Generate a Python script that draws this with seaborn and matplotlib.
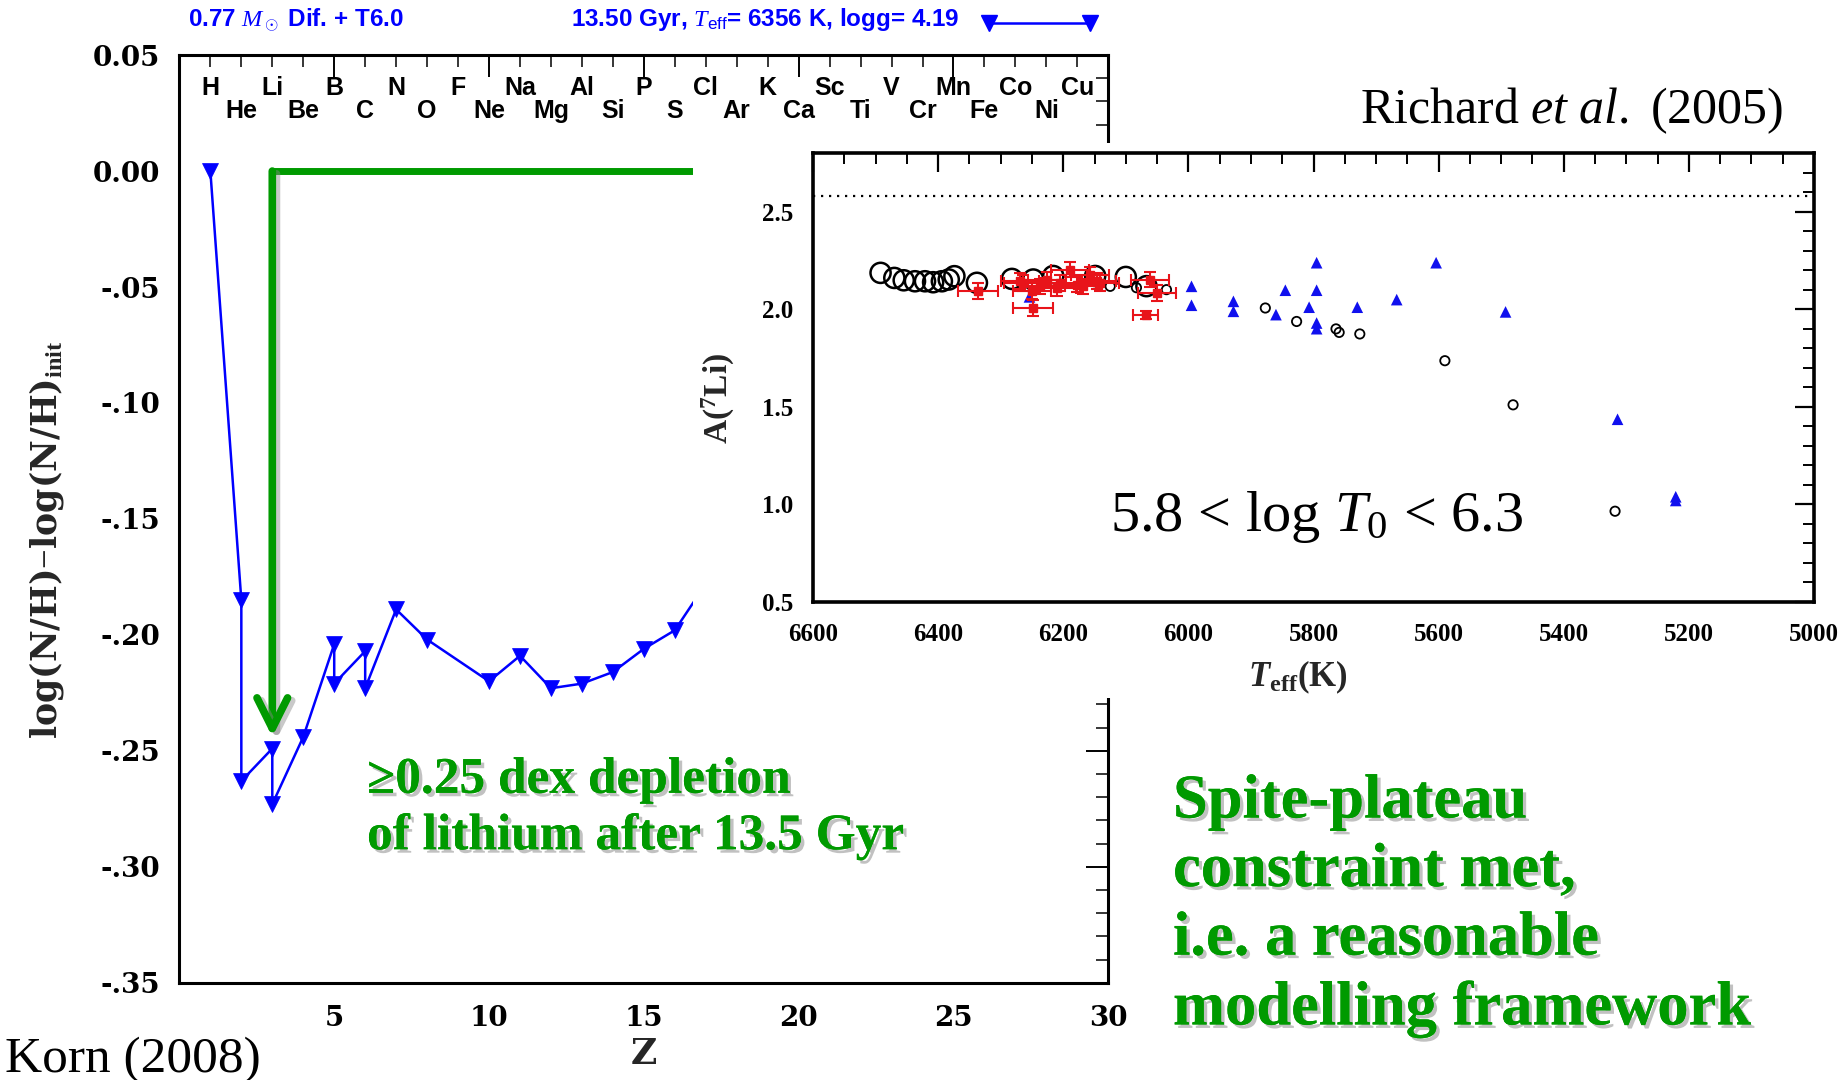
import matplotlib
matplotlib.use("Agg")
import matplotlib.pyplot as plt
import matplotlib.patheffects as pe
from matplotlib.ticker import FixedLocator, MultipleLocator
import pandas as pd
import seaborn as sns

# ---------------------------------------------------------------- data
# Surface abundance change after 13.5 Gyr (0.77 Msun, diffusion + T6.0)
z_number = [1, 2, 2, 3, 3, 4, 5, 5, 6, 6, 7, 8, 10, 11, 12, 13, 14, 15, 16, 17]
delta_log_nh = [0.000, -0.185, -0.263, -0.249, -0.273, -0.244, -0.204, -0.221,
                -0.207, -0.223, -0.189, -0.202, -0.220, -0.209, -0.223, -0.221,
                -0.216, -0.206, -0.198, -0.178]

element_symbols = ["H", "He", "Li", "Be", "B", "C", "N", "O", "F", "Ne", "Na",
                   "Mg", "Al", "Si", "P", "S", "Cl", "Ar", "K", "Ca", "Sc", "Ti",
                   "V", "Cr", "Mn", "Fe", "Co", "Ni", "Cu"]

z_ticks = [5, 10, 15, 20, 25, 30]
z_tick_labels = ["5", "10", "15", "20", "25", "30"]
abund_ticks = [0.05, 0.00, -0.05, -0.10, -0.15, -0.20, -0.25, -0.30, -0.35]
abund_tick_labels = ["0.05", "0.00", "-.05", "-.10", "-.15", "-.20", "-.25",
                     "-.30", "-.35"]

li_depletion_start = 0.0
li_depletion_end = -0.244

# Lithium abundances of halo stars (Richard et al. 2005 compilation)
circ_big_teff = [6492, 6470, 6455, 6437, 6421, 6408, 6394, 6383, 6374, 6338,
                 6282, 6248, 6216, 6149, 6100, 6067]
circ_big_ali = [2.186, 2.160, 2.148, 2.143, 2.143, 2.138, 2.143, 2.152, 2.169,
                2.135, 2.155, 2.152, 2.170, 2.170, 2.165, 2.118]

circ_small_teff = [6125, 6083, 6035, 5877, 5827, 5764, 5759, 5726, 5590, 5481,
                   5318]
circ_small_ali = [2.117, 2.110, 2.100, 2.006, 1.937, 1.899, 1.881, 1.873, 1.736,
                  1.510, 0.965]

tri_teff = [6254, 5995, 5995, 5928, 5928, 5860, 5845, 5807, 5795, 5795, 5795,
            5795, 5730, 5667, 5604, 5493, 5314, 5221, 5221]
tri_ali = [2.063, 2.117, 2.020, 2.040, 1.989, 1.972, 2.097, 2.010, 2.238, 2.097,
           1.929, 1.900, 2.010, 2.049, 2.238, 1.986, 1.436, 1.039, 1.020]

sq_teff = [6336, 6269, 6264, 6250, 6248, 6237, 6226, 6210, 6205, 6189, 6178,
           6168, 6157, 6146, 6141, 6061, 6050, 6068]
sq_ali = [2.092, 2.143, 2.135, 2.092, 2.006, 2.117, 2.150, 2.109, 2.135, 2.203,
          2.126, 2.117, 2.177, 2.143, 2.135, 2.152, 2.083, 1.972]
sq_teff_err = [32, 30, 30, 30, 32, 30, 30, 30, 30, 30, 30, 30, 30, 30, 30, 30,
               30, 20]
sq_ali_err = [0.04, 0.04, 0.04, 0.04, 0.04, 0.04, 0.04, 0.04, 0.04, 0.04, 0.04,
              0.04, 0.04, 0.04, 0.04, 0.04, 0.04, 0.02]

primordial_li = 2.58

teff_ticks = [6600, 6400, 6200, 6000, 5800, 5600, 5400, 5200, 5000]
ali_ticks = [0.5, 1.0, 1.5, 2.0, 2.5]

# ---------------------------------------------------------------- style
sns.set_style("white")
plt.rcParams["font.family"] = ["Liberation Serif", "DejaVu Serif"]
plt.rcParams["mathtext.fontset"] = "custom"
plt.rcParams["mathtext.rm"] = "Liberation Serif"
plt.rcParams["mathtext.it"] = "Liberation Serif:italic"
plt.rcParams["mathtext.bf"] = "Liberation Serif:bold"
plt.rcParams["mathtext.bfit"] = "Liberation Serif:italic:bold"
plt.rcParams["mathtext.sf"] = "Liberation Sans"

GREEN = "#009a00"
BLUE = "#0000ff"
WIDE_SERIF = ["DejaVu Serif"]

W, H = 1839, 1080
fig = plt.figure(figsize=(W / 100, H / 100), dpi=100)
fig.patch.set_facecolor("white")


def fig_rect(x0, y0, x1, y1):
    return [x0 / W, 1 - y1 / H, (x1 - x0) / W, (y1 - y0) / H]


# ---------------------------------------------------------------- main panel
ax = fig.add_axes(fig_rect(179.4, 55.1, 1108.3, 982.8))
ax.set_facecolor("white")

df_abund = pd.DataFrame({"Z": z_number, "dlog": delta_log_nh})
sns.lineplot(data=df_abund, x="Z", y="dlog", estimator=None, sort=False,
             color=BLUE, linewidth=1.8, marker="v", markersize=11,
             markeredgecolor=BLUE, markeredgewidth=0.5, ax=ax, zorder=3)

ax.set_xlim(0, 30)
ax.set_ylim(-0.35, 0.05)
ax.xaxis.set_major_locator(FixedLocator(z_ticks))
ax.set_xticklabels(z_tick_labels)
ax.xaxis.set_minor_locator(MultipleLocator(1))
ax.yaxis.set_major_locator(FixedLocator(abund_ticks))
ax.set_yticklabels(abund_tick_labels)
ax.yaxis.set_minor_locator(MultipleLocator(0.01))
ax.tick_params(which="both", direction="in", top=True, right=True,
               colors="black")
ax.tick_params(which="major", length=16, width=1.4)
ax.tick_params(which="minor", length=8.5, width=1.1)
ax.tick_params(axis="x", which="major", pad=16)
ax.tick_params(axis="y", which="major", pad=14)
for lab in ax.get_xticklabels() + ax.get_yticklabels():
    lab.set_fontweight("bold")
    lab.set_fontsize(20)
    lab.set_family(WIDE_SERIF)
for s in ax.spines.values():
    s.set_linewidth(2.2)
    s.set_color("black")

ax.set_xlabel("Z", fontsize=26, fontweight="bold", family=WIDE_SERIF)
ax.xaxis.set_label_coords(0.5, -0.058)
ax.set_ylabel(r"log(N/H)$-$log(N/H)$_{\mathbf{init}}$", fontsize=25,
              fontweight="bold", family=WIDE_SERIF)
ax.yaxis.set_label_coords(-0.122, 0.478)

# element symbols along the top
for i, sym in enumerate(element_symbols):
    z = i + 1
    yv = 0.0358 if z % 2 == 1 else 0.0259
    ax.text(z, yv, sym, ha="center", va="center", fontsize=18,
            fontweight="bold", family="Liberation Sans", color="black")

# run header
ax.text(0.0093, 1.038, r"0.77 $M_\odot$ Dif. + T6.0", transform=ax.transAxes,
        ha="left", va="center", fontsize=17.5, fontweight="bold",
        family="Liberation Sans", color=BLUE)
ax.text(0.4215, 1.038, r"13.50 Gyr, $T_{\mathsf{eff}}$= 6356 K, logg= 4.19",
        transform=ax.transAxes, ha="left", va="center", fontsize=17.5,
        fontweight="bold", family="Liberation Sans", color=BLUE)
ax.plot([0.8715, 0.980], [1.0346, 1.0346], transform=ax.transAxes,
        clip_on=False, color=BLUE, lw=1.8, marker="v", markersize=11)

# lithium depletion arrow
shadow = [pe.SimpleLineShadow(offset=(3, -2), shadow_color="#888888",
                              alpha=0.45), pe.Normal()]
ax.plot([3, 20], [li_depletion_start, li_depletion_start], color=GREEN,
        lw=5, solid_capstyle="butt", zorder=4)
ax.annotate("", xy=(3, li_depletion_end), xytext=(3, li_depletion_start),
            arrowprops=dict(arrowstyle="->,head_length=1.1,head_width=0.55",
                            color=GREEN, lw=5.5, mutation_scale=20,
                            shrinkA=0, shrinkB=0, path_effects=shadow),
            zorder=4)

text_shadow = [pe.withSimplePatchShadow(offset=(2.5, -2.5),
                                        shadow_rgbFace="#777777", alpha=0.45),
               pe.Normal()]
ax.text(367 / W, 1 - 809 / H, "\u22650.25 dex depletion\nof lithium after 13.5 Gyr",
        transform=fig.transFigure, ha="left", va="center", fontsize=37,
        fontweight="bold", color=GREEN, linespacing=1.28,
        path_effects=text_shadow)

fig.text(5 / W, 1 - 1060 / H, "Korn (2008)", ha="left", va="center",
         fontsize=37, color="black")

# ---------------------------------------------------------------- inset
cover = fig.add_axes(fig_rect(693, 143, W, 698))
cover.set_facecolor("white")
cover.set_xticks([])
cover.set_yticks([])
for s in cover.spines.values():
    s.set_visible(False)

axi = fig.add_axes(fig_rect(813, 153, 1814, 602))
axi.set_facecolor("white")

axi.axhline(primordial_li, color="black", lw=1.6, ls=(0, (1, 2.6)), zorder=1)

sns.scatterplot(x=circ_big_teff, y=circ_big_ali, s=210, marker="o",
                facecolors="none", edgecolors="black", linewidths=1.8,
                ax=axi, zorder=2)
sns.scatterplot(x=circ_small_teff, y=circ_small_ali, s=45, marker="o",
                facecolors="none", edgecolors="black", linewidths=1.3,
                ax=axi, zorder=2)
sns.scatterplot(x=tri_teff, y=tri_ali, s=70, marker="^", color="#1010ee",
                edgecolor="none", ax=axi, zorder=3)
axi.errorbar(sq_teff, sq_ali, xerr=sq_teff_err, yerr=sq_ali_err, fmt="s",
             ms=6, color="#e8141a", ecolor="#e8141a", elinewidth=1.5,
             capsize=4, capthick=1.5, zorder=4)

axi.set_xlim(6600, 5000)
axi.set_ylim(0.5, 2.8)
axi.xaxis.set_major_locator(FixedLocator(teff_ticks))
axi.set_xticklabels([str(t) for t in teff_ticks])
axi.xaxis.set_minor_locator(MultipleLocator(50))
axi.yaxis.set_major_locator(FixedLocator(ali_ticks))
axi.set_yticklabels([f"{v:.1f}" for v in ali_ticks])
axi.yaxis.set_minor_locator(MultipleLocator(0.1))
axi.tick_params(which="both", direction="in", top=True, right=True,
                colors="black")
axi.tick_params(which="major", length=14, width=1.6)
axi.tick_params(which="minor", length=8, width=1.4)
axi.tick_params(axis="x", which="major", pad=15)
axi.tick_params(axis="y", which="major", pad=14)
for lab in axi.get_xticklabels() + axi.get_yticklabels():
    lab.set_fontweight("bold")
    lab.set_fontsize(18)
for s in axi.spines.values():
    s.set_linewidth(2.6)
    s.set_color("black")

axi.set_xlabel(r"$\mathbfit{T}_{\mathbf{eff}}$(K)", fontsize=25,
               fontweight="bold")
axi.xaxis.set_label_coords(0.485, -0.125)
axi.set_ylabel(r"A($^{\mathbf{7}}$Li)", fontsize=24, fontweight="bold")
axi.yaxis.set_label_coords(-0.076, 0.453)

axi.text(0.5035, 0.19, r"5.8 < log $T_0$ < 6.3", transform=axi.transAxes,
         ha="center", va="center", fontsize=42, color="black")

fig.text(1360 / W, 1 - 111 / H, r"Richard $\it{et\ al.}$ (2005)",
         ha="left", va="center", fontsize=36, color="black")

fig.text(1173 / W, 1 - 906 / H,
         "Spite-plateau\nconstraint met,\ni.e. a reasonable\nmodelling framework",
         ha="left", va="center", fontsize=45, fontweight="bold", color=GREEN,
         linespacing=1.24, path_effects=text_shadow)

fig.savefig("out.png", dpi=100, facecolor="white")
